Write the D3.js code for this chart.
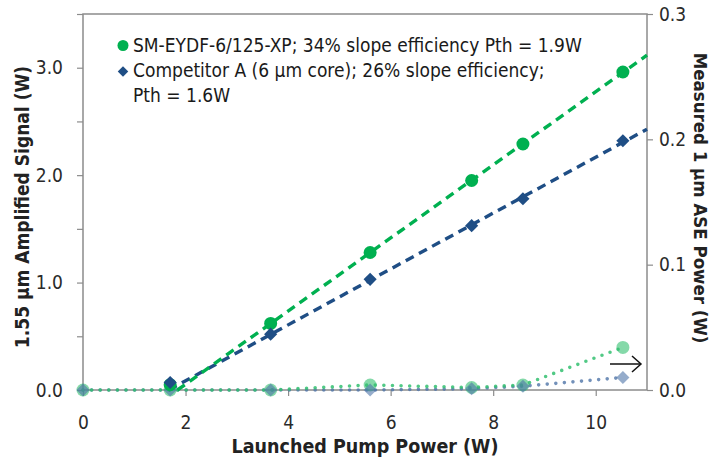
<!DOCTYPE html>
<html><head><meta charset="utf-8">
<script src="https://cdn.jsdelivr.net/npm/d3@7"></script>
<style>
html,body{margin:0;padding:0;background:#fff;}
text{font-family:"Liberation Sans Narrow","DejaVu Sans Condensed","Arial Narrow",sans-serif;}
</style></head>
<body><svg id="c" width="717" height="461"></svg>
<script>
// ---- data ----
const pumpPower   = [0, 1.7, 3.66, 5.6, 7.58, 8.58, 10.53];
const signalEYDF  = [null, 0.05, 0.62, 1.28, 1.95, 2.29, 2.96];
const signalCompA = [null, 0.07, 0.52, 1.03, 1.53, 1.78, 2.32];
const aseEYDF     = [0, 0, 0, 0.004, 0.002, 0.004, 0.034];
const aseCompA    = [0, 0, 0, 0, 0.001, 0.003, 0.010];
const xTicks = [0, 2, 4, 6, 8, 10];
const leftTicks = [0, 0.5, 1, 1.5, 2, 2.5, 3, 3.5];
const leftLabels = [0, 1, 2, 3];
const rightTicks = [0, 0.1, 0.2, 0.3];
const legendLines = [
  "SM-EYDF-6/125-XP; 34% slope efficiency Pth = 1.9W",
  "Competitor A (6 µm core); 26% slope efficiency;",
  "Pth = 1.6W"
];
const xTitle = "Launched Pump Power (W)";
const yTitle = "1.55 µm Amplified Signal (W)";
const y2Title = "Measured 1 µm ASE Power (W)";

const green = "#00b050", blue = "#1f4e85";
const greenLt = "#33c070", blueLt = "#4f74a8";

const svg = d3.select("#c");
const L = 83, R = 647, T = 14, B = 390;
const x = d3.scaleLinear().domain([0, 11]).range([L, R]);
const y = d3.scaleLinear().domain([0, 3.5]).range([B, T]);
const y2 = d3.scaleLinear().domain([0, 0.3]).range([B, T]);

// frame
svg.append("rect").attr("x", L).attr("y", T).attr("width", R - L).attr("height", B - T)
  .attr("fill", "none").attr("stroke", "#8c8c8c").attr("stroke-width", 1.5);

// axes
const axStyle = g => {
  g.select(".domain").remove();
  g.selectAll(".tick line").attr("stroke", "#8c8c8c").attr("stroke-width", 1.2);
  g.selectAll(".tick text").attr("fill", "#2a2a2a").attr("font-size", 19);
};
svg.append("g").attr("transform", `translate(0,${B})`)
  .call(d3.axisBottom(x).tickValues(xTicks).tickFormat(d3.format("d")).tickSize(6).tickPadding(20))
  .call(axStyle);
svg.append("g").attr("transform", `translate(${L},0)`)
  .call(d3.axisLeft(y).tickValues(leftTicks).tickSize(6).tickPadding(14)
    .tickFormat(d => leftLabels.includes(d) ? d3.format(".1f")(d) : ""))
  .call(axStyle);
svg.append("g").attr("transform", `translate(${R},0)`)
  .call(d3.axisRight(y2).tickValues(rightTicks).tickSize(6).tickPadding(6).tickFormat(d3.format(".1f")))
  .call(axStyle);

// ASE series (right axis), dotted + translucent markers
function rows(arr){ return pumpPower.map((p,i)=>({x:p,y:arr[i]})).filter(d=>d.y!=null); }
const line2 = d3.line().x(d=>x(d.x)).y(d=>y2(d.y));
svg.append("path").datum(rows(aseCompA)).attr("d", line2).attr("fill","none")
  .attr("stroke", blueLt).attr("stroke-opacity",0.8).attr("stroke-width",3.6)
  .attr("stroke-linecap","round").attr("stroke-dasharray","0 8.6");
svg.append("path").datum(rows(aseEYDF)).attr("d", line2).attr("fill","none")
  .attr("stroke", greenLt).attr("stroke-opacity",0.85).attr("stroke-width",3.6)
  .attr("stroke-linecap","round").attr("stroke-dasharray","0 8.6");
svg.selectAll(".aseG").data(rows(aseEYDF)).enter().append("circle")
  .attr("cx", d=>x(d.x)).attr("cy", d=>y2(d.y)).attr("r", 6.5)
  .attr("fill", greenLt).attr("fill-opacity", 0.6);
svg.selectAll(".aseB").data(rows(aseCompA)).enter().append("path")
  .attr("transform", d=>`translate(${x(d.x)},${y2(d.y)})`)
  .attr("d", d3.symbol(d3.symbolDiamond2, 110)())
  .attr("fill", blueLt).attr("fill-opacity", 0.6);

// signal trendlines (least squares on points above threshold)
function fit(arr){
  const pts = rows(arr).filter(d=>d.y>0.3);
  const mx = d3.mean(pts,d=>d.x), my = d3.mean(pts,d=>d.y);
  const s = d3.sum(pts,d=>(d.x-mx)*(d.y-my))/d3.sum(pts,d=>(d.x-mx)**2);
  const x0 = mx - my/s;
  return [{x:x0,y:0},{x:11,y:my+s*(11-mx)}];
}
const line1 = d3.line().x(d=>x(d.x)).y(d=>y(d.y));
svg.append("path").datum(fit(signalCompA)).attr("d", line1).attr("fill","none")
  .attr("stroke", blue).attr("stroke-width",3.4).attr("stroke-dasharray","9 6");
svg.append("path").datum(fit(signalEYDF)).attr("d", line1).attr("fill","none")
  .attr("stroke", green).attr("stroke-width",3.4).attr("stroke-dasharray","9 6");

// signal markers
svg.selectAll(".sigG").data(rows(signalEYDF)).enter().append("circle")
  .attr("cx", d=>x(d.x)).attr("cy", d=>y(d.y)).attr("r", 6.5).attr("fill", green);
svg.selectAll(".sigB").data(rows(signalCompA)).enter().append("path")
  .attr("transform", d=>`translate(${x(d.x)},${y(d.y)})`)
  .attr("d", d3.symbol(d3.symbolDiamond2, 110)()).attr("fill", blue);

// arrow pointing to right axis
const ay = 364;
svg.append("line").attr("x1",610).attr("x2",641).attr("y1",ay).attr("y2",ay).attr("stroke","#111").attr("stroke-width",1.5);
svg.append("path").attr("d",`M${632},${ay-8} L${641},${ay} L${632},${ay+8}`).attr("fill","none").attr("stroke","#111").attr("stroke-width",1.5);

// legend
const lg = svg.append("g");
lg.append("circle").attr("cx",123).attr("cy",45.5).attr("r",5.5).attr("fill",green);
lg.append("path").attr("transform","translate(123,71.5)").attr("d", d3.symbol(d3.symbolDiamond2, 70)()).attr("fill",blue);
legendLines.forEach((t,i)=>{
  lg.append("text").attr("x",133).attr("y",52+i*25).attr("font-size",19).attr("fill","#1a1a1a").text(t);
});

// titles
svg.append("text").attr("x",(L+R)/2).attr("y",453).attr("text-anchor","middle")
  .attr("font-size",19.5).attr("font-weight","bold").attr("fill","#222").text(xTitle);
svg.append("text").attr("transform","translate(29,207) rotate(-90)").attr("text-anchor","middle")
  .attr("font-size",19).attr("font-weight","bold").attr("fill","#222").text(yTitle);
svg.append("text").attr("transform","translate(694,198) rotate(90)").attr("text-anchor","middle")
  .attr("font-size",18.5).attr("font-weight","bold").attr("fill","#222").text(y2Title);
</script></body></html>
